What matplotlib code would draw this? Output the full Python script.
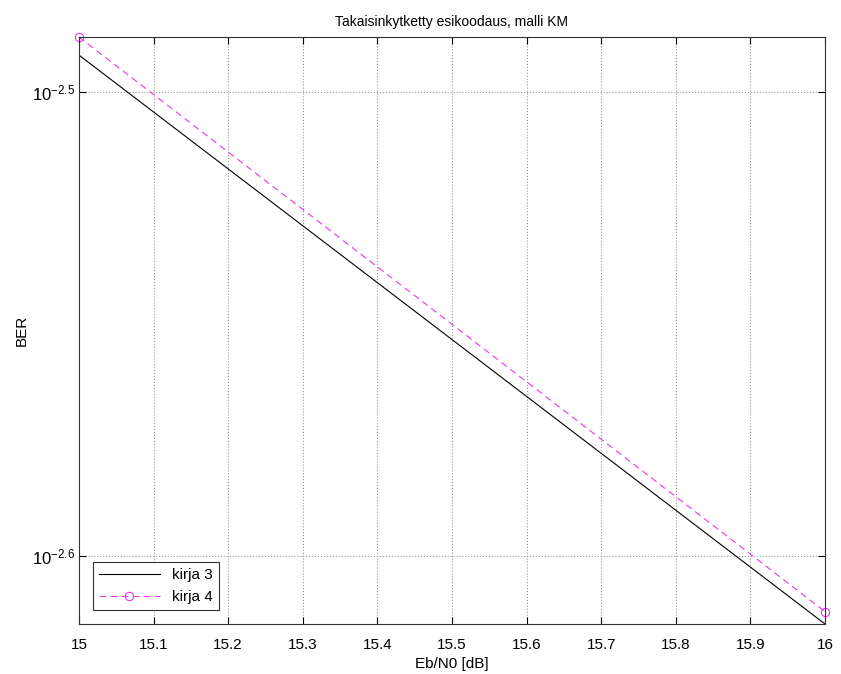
import matplotlib
matplotlib.use("Agg")
from matplotlib import pyplot as plt
from matplotlib.ticker import FixedLocator, FixedFormatter, NullLocator

plt.rcParams['font.family'] = ['Liberation Sans', 'DejaVu Sans']
plt.rcParams['font.size'] = 11

ebn0 = [15, 16]
ber_kirja3 = [0.003221, 0.002428]
ber_kirja4 = [0.003250, 0.002443]

xticks = [15, 15.1, 15.2, 15.3, 15.4, 15.5, 15.6, 15.7, 15.8, 15.9, 16]
xtick_labels = ["15", "15.1", "15.2", "15.3", "15.4", "15.5", "15.6", "15.7", "15.8", "15.9", "16"]
yticks = [10 ** -2.6, 10 ** -2.5]
ytick_labels = [r"$\mathregular{10^{-2.6}}$", r"$\mathregular{10^{-2.5}}$"]

fig = plt.figure(figsize=(8.41, 6.74), dpi=100)
ax = fig.add_axes([0.0939, 0.0742, 0.8871, 0.8708])

ax.semilogy(ebn0, ber_kirja3, color="black", linewidth=0.8, label="kirja 3")
ax.semilogy(ebn0, ber_kirja4, color="#e838e8", linestyle="--", dashes=(6, 4),
            linewidth=0.8, marker="o", markersize=6, markerfacecolor="none",
            markeredgewidth=0.8, label="kirja 4", clip_on=False)

ax.set_xlim(15, 16)
ax.set_ylim(ber_kirja3[-1], ber_kirja4[0])
ax.xaxis.set_major_locator(FixedLocator(xticks))
ax.xaxis.set_major_formatter(FixedFormatter(xtick_labels))
ax.yaxis.set_major_locator(FixedLocator(yticks))
ax.yaxis.set_major_formatter(FixedFormatter(ytick_labels))
ax.yaxis.set_minor_locator(NullLocator())
ax.tick_params(direction="in", top=True, right=True, length=5, width=0.8)
ax.tick_params(axis="x", pad=10)
ax.tick_params(axis="y", pad=3, labelsize=12)
ax.grid(True, linestyle=":", color="#999999", linewidth=0.8)
for s in ax.spines.values():
    s.set_linewidth(0.8)
    s.set_color("#333333")

ax.set_xlabel("Eb/N0 [dB]", labelpad=4)
ax.set_ylabel("BER", labelpad=2)
ax.set_title("Takaisinkytketty esikoodaus, malli KM", fontsize=10, pad=8)

leg = ax.legend(loc="lower left", fancybox=False, framealpha=1, edgecolor="#333333",
                borderaxespad=0.9, handlelength=4)
leg.get_frame().set_linewidth(0.8)

fig.savefig("out.png", dpi=100)
